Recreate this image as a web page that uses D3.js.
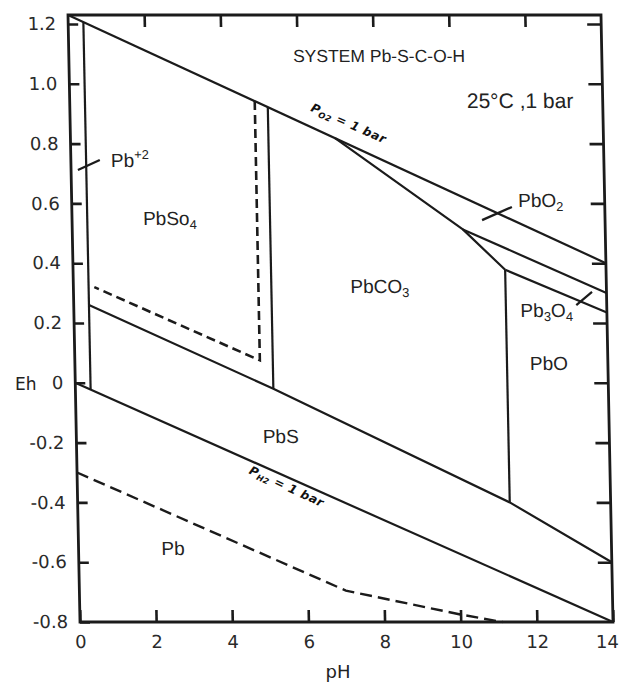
<!DOCTYPE html>
<html>
<head>
<meta charset="utf-8">
<script src="https://cdn.jsdelivr.net/npm/d3@7"></script>
<style>
  body { margin: 0; background: #fff; }
  svg { display: block; }
</style>
</head>
<body>
<div id="chart"></div>
<script>
// stability field boundaries, as [pH, Eh] pairs
const waterUpper = [[0, 1.23], [14, 0.40]];
const waterLower = [[0, 0.0], [14, -0.8]];
const pb2Boundary = [[0.4, 1.206], [0.4, -0.023]];
const sulfateDashed = [[4.86, 0.942], [4.86, 0.075], [0.55, 0.32]];
const sulfateCarbonate = [[5.2, 0.922], [5.2, -0.02]];
const sulfideLine = [[0.4, 0.26], [5.2, -0.02], [11.35, -0.40], [14, -0.60]];
const carbonateOxide = [[11.35, 0.378], [11.35, -0.40]];
const carbonateUpper = [[6.95, 0.818], [10.26, 0.513], [11.35, 0.378]];
const pbo2Lower = [[10.26, 0.513], [14, 0.30]];
const pb3o4Lower = [[11.35, 0.378], [14, 0.235]];
const metalDashed = [[0, -0.30], [7.0, -0.695], [10, -0.775], [11.1, -0.80]];

// axis ticks
const phTicks = [0, 2, 4, 6, 8, 10, 12, 14];
const ehTicks = [-0.8, -0.6, -0.4, -0.2, 0, 0.2, 0.4, 0.6, 0.8, 1.0, 1.2];

// field names: [pH, Eh] anchor (middle) and text parts
const fieldLabels = [
    { at: [8.15, 1.073], size: 17.5, parts: [['SYSTEM Pb-S-C-O-H', '']] },
    { at: [11.83, 0.919], size: 21, parts: [['25°C ,1 bar', '']] },
    { at: [12.32, 0.588], size: 19, parts: [['PbO', ''], ['2', 'sub']] },
    { at: [12.42, 0.22], size: 19, parts: [['Pb', ''], ['3', 'sub'], ['O', ''], ['4', 'sub']] },
    { at: [12.45, 0.043], size: 19, parts: [['PbO', '']] },
    { at: [8.05, 0.30], size: 19, parts: [['PbCO', ''], ['3', 'sub']] },
    { at: [2.57, 0.528], size: 19, parts: [['PbSo', ''], ['4', 'sub']] },
    { at: [1.55, 0.722], size: 19, parts: [['Pb', ''], ['+2', 'sup']] },
    { at: [5.37, -0.201], size: 19, parts: [['PbS', '']] },
    { at: [2.48, -0.576], size: 19, parts: [['Pb', '']] }
];
const pointers = [
    [[0.18, 0.712], [0.76, 0.745]],
    [[10.77, 0.544], [11.56, 0.588]],
    [[13.2, 0.26], [13.62, 0.304]]
];
const gasLabels = [
    { at: [7.27, 0.855], angle: 24, gas: 'O2' },
    { at: [5.45, -0.359], angle: 25, gas: 'H2' }
];

const margin = { top: 15, left: 68 };
const width = 533;
const height = 607;
// the scanned frame leans a little: bottom edge sits 12px right of the top
const skew = Math.atan(12 / height) * 180 / Math.PI;
const ink = '#1b1b1b';

const svg = d3.select('#chart')
    .append('svg')
    .attr('width', 622)
    .attr('height', 692);

const g = svg.append('g')
    .attr('transform', `translate(${margin.left},${margin.top}) skewX(${skew})`);

const xScale = d3.scaleLinear().domain([0, 14]).range([0, width]);
const yScale = d3.scaleLinear().domain([-0.8, 1.23]).range([height, 0]);
const line = d3.line().x(d => xScale(d[0])).y(d => yScale(d[1]));

function richText(el, parts, size) {
    let shift = 0;
    parts.forEach(([t, mode]) => {
        const target = mode === 'sub' ? size * 0.2 : mode === 'sup' ? -size * 0.4 : 0;
        el.append('tspan')
            .attr('dy', target - shift)
            .attr('font-size', mode ? size * 0.68 : size)
            .text(t);
        shift = target;
    });
}

// axes, ticks pointing into the frame
const tickFont = 'DejaVu Sans, sans-serif';

g.append('g')
    .attr('class', 'y-axis')
    .call(d3.axisLeft(yScale).tickValues(ehTicks).tickSize(-10).tickPadding(12)
        .tickFormat(d => d === 0 ? '0' : d.toFixed(1)));

g.append('g')
    .attr('class', 'y-axis-right')
    .attr('transform', `translate(${width},0)`)
    .call(d3.axisRight(yScale).tickValues(ehTicks.filter(d => d > -0.8)).tickSize(-14).tickFormat(''));

g.append('g')
    .attr('class', 'x-axis')
    .attr('transform', `translate(0,${height})`)
    .call(d3.axisBottom(xScale).tickValues(phTicks).tickSize(-12).tickPadding(13));

g.append('g')
    .attr('class', 'x-axis-top')
    .call(d3.axisTop(xScale).tickValues(phTicks.slice(1, -1)).tickSize(-12).tickFormat(''));

g.selectAll('.domain').remove();
g.selectAll('.tick line').attr('stroke', ink).attr('stroke-width', 2.6);
g.selectAll('.tick text')
    .attr('fill', '#2a2a2a')
    .style('font-family', tickFont)
    .style('font-size', '18px');

// last pH label sits against the right edge of the page
g.select('.x-axis').selectAll('.tick text')
    .filter(d => d === 14)
    .attr('text-anchor', 'end')
    .attr('dx', 5);

g.append('rect')
    .attr('x', 0)
    .attr('y', 0)
    .attr('width', width)
    .attr('height', height)
    .attr('fill', 'none')
    .attr('stroke', ink)
    .attr('stroke-width', 2.8);

// boundaries
const solid = [waterUpper, waterLower, pb2Boundary, sulfateCarbonate, sulfideLine,
    carbonateOxide, carbonateUpper, pbo2Lower, pb3o4Lower];

g.selectAll('.boundary')
    .data(solid)
    .enter()
    .append('path')
    .attr('class', 'boundary')
    .attr('d', line)
    .attr('fill', 'none')
    .attr('stroke', ink)
    .attr('stroke-width', 2.2)
    .attr('stroke-linejoin', 'round');

g.append('path')
    .attr('d', line(sulfateDashed))
    .attr('fill', 'none')
    .attr('stroke', ink)
    .attr('stroke-width', 2.6)
    .attr('stroke-dasharray', '9,5');

g.append('path')
    .attr('d', line(metalDashed))
    .attr('fill', 'none')
    .attr('stroke', ink)
    .attr('stroke-width', 2.4)
    .attr('stroke-dasharray', '12,6');

g.selectAll('.pointer')
    .data(pointers)
    .enter()
    .append('path')
    .attr('class', 'pointer')
    .attr('d', line)
    .attr('stroke', ink)
    .attr('stroke-width', 2.2);

// labels
fieldLabels.forEach(d => {
    const t = g.append('text')
        .attr('x', xScale(d.at[0]))
        .attr('y', yScale(d.at[1]))
        .attr('text-anchor', 'middle')
        .attr('fill', '#222')
        .style('font-family', 'Liberation Sans, Arial, sans-serif');
    richText(t, d.parts, d.size);
});

gasLabels.forEach(d => {
    const t = g.append('text')
        .attr('transform', `translate(${xScale(d.at[0])},${yScale(d.at[1])}) rotate(${d.angle})`)
        .attr('text-anchor', 'middle')
        .attr('dy', '0.35em')
        .attr('fill', '#111')
        .style('font-family', 'DejaVu Sans, sans-serif')
        .style('font-weight', 'bold')
        .style('font-style', 'italic')
        .style('letter-spacing', '0.5px');
    richText(t, [['P', ''], [d.gas, 'sub'], [' = 1 bar', '']], 12);
});

// axis titles
svg.append('text')
    .attr('x', 15)
    .attr('y', 390)
    .attr('fill', '#222')
    .style('font-family', tickFont)
    .style('font-size', '17px')
    .text('Eh');

svg.append('text')
    .attr('x', 338)
    .attr('y', 678)
    .attr('text-anchor', 'middle')
    .attr('fill', '#222')
    .style('font-family', tickFont)
    .style('font-size', '18px')
    .text('pH');
</script>
</body>
</html>
